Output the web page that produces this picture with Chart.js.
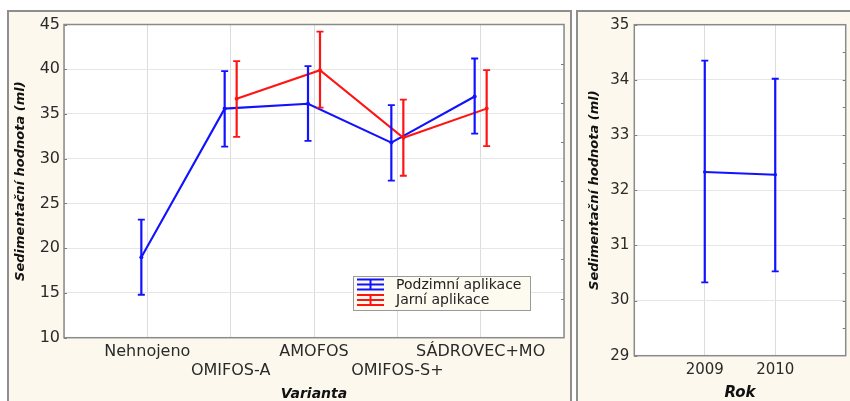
<!DOCTYPE html>
<html>
<head>
<meta charset="utf-8">
<title>Sedimentační hodnota</title>
<script src="https://cdn.jsdelivr.net/npm/chart.js@4.4.1/dist/chart.umd.min.js"></script>
<style>
  html, body { margin: 0; padding: 0; background: #fff; width: 850px; height: 401px; overflow: hidden; }
  .panel { position: absolute; box-sizing: border-box; border: 2px solid #8e8e8e; background: #fcf8ed; }
  #panelA { left: 7px; top: 10px; width: 565px; height: 400px; }
  #panelB { left: 576px; top: 10px; width: 290px; height: 400px; }
  canvas { position: absolute; top: 0; }
  #chartA { left: 0; width: 575px; height: 401px; }
  #chartB { left: 575px; width: 276px; height: 401px; }
</style>
</head>
<body>
<div class="panel" id="panelA"></div>
<div class="panel" id="panelB"></div>
<canvas id="chartA" width="575" height="401"></canvas>
<canvas id="chartB" width="276" height="401"></canvas>
<script>
// Variants of fertilisation and the two application terms
const categories = ['Nehnojeno', 'OMIFOS-A', 'AMOFOS', 'OMIFOS-S+', 'SÁDROVEC+MO'];
const seriesNames = ['Podzimní aplikace', 'Jarní aplikace'];

// Means and 95% confidence limits (ml)
const autumnMean = [19.0, 35.6, 36.15, 31.8, 36.95];
const autumnLow  = [14.8, 31.35, 32.0, 27.55, 32.8];
const autumnHigh = [23.2, 39.8, 40.35, 36.0, 41.2];

const springMean = [null, 36.7, 39.9, 32.35, 35.6];
const springLow  = [null, 32.45, 35.7, 28.1, 31.4];
const springHigh = [null, 40.9, 44.2, 36.6, 39.9];

// Year effect
const years = [2009, 2010];
const yearMean = [32.33, 32.28];
const yearLow  = [30.33, 30.53];
const yearHigh = [34.35, 34.02];

// Axis ranges
const variantTicks = { min: 10, max: 45, step: 5 };
const yearTicks = { min: 29, max: 35, step: 1 };

const BLUE = '#1212ff';
const RED = '#ff1414';
const DODGE = 0.072;   // horizontal shift of the two series within a category

const tickFont = { family: 'DejaVu Sans', size: 16, lineHeight: 19 / 16 };
const titleFont = { family: 'DejaVu Sans', size: 13, weight: 'bold', style: 'italic', lineHeight: 1 };

// White plot background
const plotBackground = {
  id: 'plotBackground',
  beforeDraw(chart) {
    const { ctx, chartArea: a } = chart;
    ctx.save();
    ctx.fillStyle = '#ffffff';
    ctx.fillRect(a.left, a.top, a.right - a.left, a.bottom - a.top);
    ctx.restore();
  }
};

// Vertical error bars with caps
const errorBars = {
  id: 'errorBars',
  afterDatasetsDraw(chart) {
    const ctx = chart.ctx;
    const ys = chart.scales.y;
    chart.data.datasets.forEach((ds, di) => {
      const meta = chart.getDatasetMeta(di);
      ctx.save();
      ctx.strokeStyle = ds.borderColor;
      meta.data.forEach((pt, i) => {
        const lo = ds.errLow[i], hi = ds.errHigh[i];
        if (lo == null || hi == null) return;
        const x = pt.x;
        const y1 = ys.getPixelForValue(lo);
        const y2 = ys.getPixelForValue(hi);
        ctx.lineWidth = 2.2;
        ctx.beginPath();
        ctx.moveTo(x, y1);
        ctx.lineTo(x, y2);
        ctx.stroke();
        ctx.lineWidth = 1.8;
        ctx.beginPath();
        ctx.moveTo(x - 3.5, y1); ctx.lineTo(x + 3.5, y1);
        ctx.moveTo(x - 3.5, y2); ctx.lineTo(x + 3.5, y2);
        ctx.stroke();
      });
      ctx.restore();
    });
  }
};

// Plot frame, inward tick marks and an optional boxed legend
const frame = {
  id: 'frame',
  afterDraw(chart, args, opts) {
    const { ctx, chartArea: a } = chart;
    ctx.save();
    // inward ticks on the left axis at each labelled value
    ctx.strokeStyle = '#7a7a7a';
    ctx.lineWidth = 1;
    chart.scales.y.ticks.forEach(t => {
      const y = Math.round(chart.scales.y.getPixelForValue(t.value)) + 0.5;
      ctx.beginPath(); ctx.moveTo(a.left, y); ctx.lineTo(a.left + 3, y); ctx.stroke();
    });
    // inward ticks on the right edge
    const n = opts.rightDivisions || 0;
    for (let i = 1; i < n; i++) {
      const y = Math.round(a.top + (a.bottom - a.top) * i / n) + 0.5;
      ctx.beginPath(); ctx.moveTo(a.right - 3, y); ctx.lineTo(a.right, y); ctx.stroke();
    }
    // frame
    ctx.strokeStyle = '#8a8a8a';
    ctx.lineWidth = 1.5;
    ctx.strokeRect(a.left, a.top, a.right - a.left, a.bottom - a.top);

    // legend
    if (opts.legend) {
      const L = opts.legend;
      ctx.fillStyle = '#fdfaf0';
      ctx.fillRect(L.x, L.y, L.w, L.h);
      ctx.strokeStyle = '#9a9a9a';
      ctx.lineWidth = 1;
      ctx.strokeRect(L.x + 0.5, L.y + 0.5, L.w, L.h);
      chart.data.datasets.forEach((ds, i) => {
        const yc = L.y + 8.5 + i * 15.5;
        const x0 = L.x + 4, x1 = L.x + 31, xm = (x0 + x1) / 2;
        ctx.strokeStyle = ds.borderColor;
        ctx.lineWidth = 2;
        ctx.beginPath();
        [-5, 0, 5].forEach(d => { ctx.moveTo(x0, yc + d); ctx.lineTo(x1, yc + d); });
        ctx.moveTo(xm, yc - 6); ctx.lineTo(xm, yc + 6);
        ctx.stroke();
        ctx.fillStyle = '#222';
        ctx.font = '14px "DejaVu Sans"';
        ctx.textBaseline = 'middle';
        ctx.textAlign = 'left';
        ctx.fillText(ds.label, L.x + 43, yc + 0.5);
      });
    }
    ctx.restore();
  }
};

const toPoints = (means, shift) =>
  means.map((v, i) => ({ x: i + 1 + shift, y: v }));

new Chart(document.getElementById('chartA'), {
  type: 'line',
  data: {
    datasets: [
      {
        label: seriesNames[0],
        data: toPoints(autumnMean, -DODGE),
        errLow: autumnLow, errHigh: autumnHigh,
        borderColor: BLUE, backgroundColor: BLUE,
        borderWidth: 2.1, pointRadius: 2, pointBorderWidth: 0,
        tension: 0, order: 1
      },
      {
        label: seriesNames[1],
        data: toPoints(springMean, DODGE),
        errLow: springLow, errHigh: springHigh,
        borderColor: RED, backgroundColor: RED,
        borderWidth: 2.1, pointRadius: 2, pointBorderWidth: 0,
        tension: 0, order: 0, spanGaps: false
      }
    ]
  },
  options: {
    responsive: false,
    animation: false,
    devicePixelRatio: 1,
    layout: { padding: { left: 0, top: 24.5, right: 11, bottom: 0 } },
    plugins: {
      legend: { display: false },
      tooltip: { enabled: false },
      frame: {
        rightDivisions: 8,
        legend: { x: 353, y: 276, w: 177, h: 34 }
      }
    },
    scales: {
      x: {
        type: 'linear',
        min: 0, max: categories.length + 1,
        afterFit(s) { s.height = 63.3; },
        afterBuildTicks(s) {
          s.ticks = [];
          for (let v = 0; v <= categories.length + 1; v++) s.ticks.push({ value: v });
        },
        grid: { color: '#dcdcdc', lineWidth: 1, drawTicks: false },
        border: { display: false },
        ticks: {
          autoSkip: false, maxRotation: 0, minRotation: 0,
          padding: 5, color: '#2a2a2a', font: tickFont,
          callback(v) {
            const i = v - 1;
            if (i < 0 || i >= categories.length) return '';
            return i % 2 === 0 ? categories[i] : ['', categories[i]];
          }
        },
        title: {
          display: true, text: 'Varianta', color: '#111',
          font: { family: 'DejaVu Sans', size: 14, weight: 'bold', style: 'italic', lineHeight: 1 },
          padding: { top: 0, bottom: 0 }
        }
      },
      y: {
        min: variantTicks.min, max: variantTicks.max,
        afterFit(s) { s.width = 64; },
        grid: { color: '#e6e6e6', lineWidth: 1, drawTicks: false },
        border: { display: false },
        ticks: { stepSize: variantTicks.step, padding: 4, color: '#2a2a2a', font: { family: 'DejaVu Sans', size: 16 } },
        title: {
          display: true, text: 'Sedimentační hodnota (ml)', color: '#111',
          font: titleFont, padding: { top: 14.5, bottom: 0 }
        }
      }
    }
  },
  plugins: [plotBackground, errorBars, frame]
});

new Chart(document.getElementById('chartB'), {
  type: 'line',
  data: {
    datasets: [
      {
        label: 'Rok',
        data: years.map((yr, i) => ({ x: yr, y: yearMean[i] })),
        errLow: yearLow, errHigh: yearHigh,
        borderColor: BLUE, backgroundColor: BLUE,
        borderWidth: 2.1, pointRadius: 1.8, pointBorderWidth: 0,
        tension: 0
      }
    ]
  },
  options: {
    responsive: false,
    animation: false,
    devicePixelRatio: 1,
    layout: { padding: { left: 0, top: 24.7, right: 0.7, bottom: 0 } },
    plugins: {
      legend: { display: false },
      tooltip: { enabled: false },
      frame: { rightDivisions: 12 }
    },
    scales: {
      x: {
        type: 'linear',
        min: years[0] - 1, max: years[years.length - 1] + 1,
        afterFit(s) { s.height = 45.3; },
        afterBuildTicks(s) {
          s.ticks = [];
          for (let v = years[0] - 1; v <= years[years.length - 1] + 1; v++) s.ticks.push({ value: v });
        },
        grid: { color: '#dcdcdc', lineWidth: 1, drawTicks: false },
        border: { display: false },
        ticks: {
          autoSkip: false, maxRotation: 0, minRotation: 0,
          padding: 5.3, color: '#2a2a2a', font: { family: 'DejaVu Sans', size: 15, lineHeight: 1.2 },
          callback(v) { return years.includes(v) ? String(v) : ''; }
        },
        title: {
          display: true, text: 'Rok', color: '#111',
          font: { family: 'DejaVu Sans', size: 15, weight: 'bold', style: 'italic', lineHeight: 1 },
          padding: { top: 0, bottom: 0.5 }
        }
      },
      y: {
        min: yearTicks.min, max: yearTicks.max,
        afterFit(s) { s.width = 59.3; },
        grid: { color: '#e6e6e6', lineWidth: 1, drawTicks: false },
        border: { display: false },
        ticks: { stepSize: yearTicks.step, padding: 5, color: '#2a2a2a', font: { family: 'DejaVu Sans', size: 15 } },
        title: {
          display: true, text: 'Sedimentační hodnota (ml)', color: '#111',
          font: titleFont, padding: { top: 13.5, bottom: 0 }
        }
      }
    }
  },
  plugins: [plotBackground, errorBars, frame]
});
</script>
</body>
</html>
